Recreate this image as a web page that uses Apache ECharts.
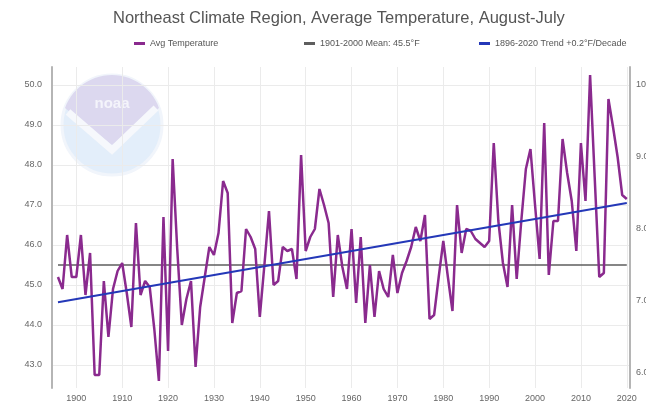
<!DOCTYPE html>
<html>
<head>
<meta charset="utf-8">
<script src="https://cdn.jsdelivr.net/npm/echarts@6/dist/echarts.min.js"></script>
<style>
  html, body { margin: 0; padding: 0; background: #ffffff; }
  #chart { width: 646px; height: 404px; }
</style>
</head>
<body>
<div id="chart"></div>
<script>
// Northeast climate region, August–July average temperature (°F), one value per year.
const firstYear = 1896;
const avgTemperature = [
  45.2, 44.9, 46.25, 45.2, 45.2, 46.25, 44.75, 45.8, 42.75, 42.75,
  45.1, 43.7, 44.9, 45.35, 45.55, 44.8, 43.95, 46.55, 44.75, 45.1,
  44.95, 43.9, 42.6, 46.7, 43.35, 48.15, 45.9, 44.0, 44.65, 45.1,
  42.95, 44.45, 45.2, 45.95, 45.75, 46.3, 47.6, 47.3, 44.05, 44.8,
  44.85, 46.4, 46.2, 45.9, 44.2, 45.5, 46.85, 45.0, 45.1, 45.95,
  45.85, 45.9, 45.15, 48.25, 45.85, 46.2, 46.4, 47.4, 47.0, 46.55,
  44.7, 46.25, 45.45, 44.9, 46.4, 44.55, 46.2, 44.05, 45.5, 44.2,
  45.35, 44.9, 44.7, 45.75, 44.8, 45.3, 45.6, 45.95, 46.45, 46.1,
  46.75, 44.15, 44.25, 45.2, 46.1, 45.2, 44.35, 47.0, 45.8, 46.4,
  46.35, 46.15, 46.05, 45.95, 46.1, 48.55, 46.6, 45.55, 44.95, 47.0,
  45.15, 46.6, 47.9, 48.4, 47.0, 45.65, 49.05, 45.25, 46.6, 46.6,
  48.65, 47.8, 47.1, 45.85, 48.55, 47.1, 50.25, 47.7, 45.2, 45.3,
  49.65, 48.95, 48.2, 47.25, 47.15
];

// 1901–2000 mean and the long-term linear trend (end points).
const meanYears = [1896, 2020];
const meanValues = [45.5, 45.5];
const trendYears = [1896, 2020];
const trendValues = [44.57, 47.05];

// Tick labels.
const yearTicks = [1900, 1910, 1920, 1930, 1940, 1950, 1960, 1970, 1980, 1990, 2000, 2010, 2020];
const fahrenheitTicks = [43, 44, 45, 46, 47, 48, 49, 50];
const celsiusTicks = [6, 7, 8, 9, 10];

const seriesNames = ['Avg Temperature', '1901-2000 Mean: 45.5°F', '1896-2020 Trend +0.2°F/Decade'];

const years = avgTemperature.map((_, i) => firstYear + i);
const tempPoints = years.map((y, i) => [y, avgTemperature[i]]);
const meanPoints = meanYears.map((y, i) => [y, meanValues[i]]);
const trendPoints = trendYears.map((y, i) => [y, trendValues[i]]);

const fMin = 42.425, fMax = 50.45;
const toC = f => (f - 32) / 1.8;

const font = 'Liberation Sans, Arial, sans-serif';
const axisText = { color: '#666', fontSize: 9, fontFamily: font };
const gridLine = { show: true, lineStyle: { color: '#ebebeb', width: 1 } };

// Emblem outline: upper cap of a circle closed by a V.
const emblem = { cx: 112, cy: 125, r: 50 };
function emblemCap() {
  const pts = [];
  for (let a = 200; a <= 340; a += 5) {
    const t = a * Math.PI / 180;
    pts.push([emblem.cx + emblem.r * Math.cos(t), emblem.cy + emblem.r * Math.sin(t)]);
  }
  pts.push([emblem.cx, emblem.cy + 20]);
  return pts;
}

const chart = echarts.init(document.getElementById('chart'), null, { renderer: 'canvas' });

const legendBase = {
  icon: 'rect', itemWidth: 11, itemHeight: 3, top: 39, padding: 0,
  textStyle: { color: '#555', fontSize: 9, fontFamily: font }
};

chart.setOption({
  animation: false,
  backgroundColor: '#ffffff',
  title: {
    text: 'Northeast Climate Region, Average Temperature, August-July',
    left: 113, top: 10, padding: 0,
    textStyle: { color: '#555', fontSize: 16.5, fontWeight: 'normal', fontFamily: font }
  },
  legend: [
    Object.assign({ data: [seriesNames[0]], left: 134 }, legendBase),
    Object.assign({ data: [seriesNames[1]], left: 304 }, legendBase),
    Object.assign({ data: [seriesNames[2]], left: 479 }, legendBase)
  ],
  graphic: [
    { type: 'circle', shape: { cx: emblem.cx, cy: emblem.cy, r: emblem.r }, style: { fill: '#e3eefa', stroke: '#f1f5fb', lineWidth: 3 }, z: 0, silent: true },
    { type: 'polygon', shape: { points: emblemCap() }, style: { fill: '#dcd8ef' }, z: 0, silent: true },
    { type: 'polyline', shape: { points: [[68, 112], [112, 150], [156, 108]] }, style: { stroke: '#f6f8fc', lineWidth: 7, fill: null }, z: 0, silent: true },
    { type: 'text', style: { text: 'noaa', x: 112, y: 104, align: 'center', verticalAlign: 'middle', fill: '#f4f4fb', font: 'bold 15px ' + font }, z: 0, silent: true }
  ],
  grid: { left: 52, right: 16, top: 67, bottom: 16, containLabel: false, outerBoundsMode: 'none' },
  xAxis: {
    type: 'value', min: 1894.7, max: 2020.7,
    axisLine: { show: false },
    axisTick: { show: false, customValues: yearTicks },
    axisLabel: Object.assign({ customValues: yearTicks, margin: 6, formatter: v => String(v) }, axisText),
    splitLine: gridLine
  },
  yAxis: [
    {
      type: 'value', min: fMin, max: fMax,
      axisLine: { show: true, lineStyle: { color: '#b5b5b5', width: 2 } },
      axisTick: { show: false, customValues: fahrenheitTicks },
      axisLabel: Object.assign({ customValues: fahrenheitTicks, margin: 10, formatter: v => v.toFixed(1) }, axisText),
      splitLine: gridLine
    },
    {
      type: 'value', min: toC(fMin), max: toC(fMax), position: 'right',
      axisLine: { show: true, lineStyle: { color: '#b5b5b5', width: 2 } },
      axisTick: { show: false, customValues: celsiusTicks },
      axisLabel: Object.assign({ customValues: celsiusTicks, margin: 6, formatter: v => v.toFixed(1) }, axisText),
      splitLine: { show: false }
    }
  ],
  series: [
    {
      name: seriesNames[0], type: 'line', data: tempPoints, yAxisIndex: 0,
      showSymbol: false, symbol: 'none',
      lineStyle: { color: '#8a2a8e', width: 2.5 }, itemStyle: { color: '#8a2a8e' }, z: 3
    },
    {
      name: seriesNames[1], type: 'line', data: meanPoints, yAxisIndex: 0,
      showSymbol: false, symbol: 'none',
      lineStyle: { color: '#5e5e5e', width: 1.5 }, itemStyle: { color: '#5e5e5e' }, z: 2
    },
    {
      name: seriesNames[2], type: 'line', data: trendPoints, yAxisIndex: 0,
      showSymbol: false, symbol: 'none',
      lineStyle: { color: '#2438b8', width: 2 }, itemStyle: { color: '#2438b8' }, z: 4
    }
  ]
});
</script>
</body>
</html>
